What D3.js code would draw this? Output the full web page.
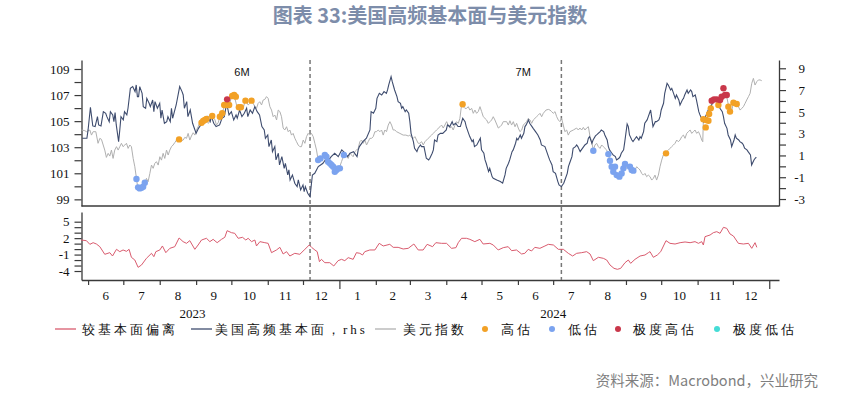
<!DOCTYPE html>
<html>
<head>
<meta charset="utf-8">
<script src="https://cdn.jsdelivr.net/npm/d3@7"></script>
<style>
  body { margin: 0; background: #fff; }
  svg text { font-family: "Liberation Serif", "Times New Roman", serif; }
</style>
</head>
<body>
<div id="chart"></div>
<script>
// days counted from 2023-06-01

// 美国高频基本面 (rhs)
var fundamentals = [[-5,2.58],[-1,2.58],[0,3.34],[2,5.42],[4,3.71],[6,3.65],[8,4.56],[9,3.80],[11,3.71],[13,5.02],[15,4.87],[16,4.56],[18,4.10],[19,5.02],[21,4.72],[22,4.10],[23,4.93],[24,3.80],[26,2.27],[27,3.34],[28,4.56],[30,4.26],[31,5.02],[33,4.72],[34,5.33],[36,7.16],[38,7.32],[40,6.86],[41,7.47],[42,6.40],[43,6.40],[44,7.32],[46,6.70],[47,5.48],[49,5.33],[50,6.24],[52,5.79],[53,5.48],[55,6.09],[56,5.02],[57,5.94],[59,5.33],[61,5.79],[62,4.41],[63,5.17],[65,3.95],[67,4.10],[68,4.56],[70,4.10],[71,5.33],[72,4.41],[75,5.63],[78,7.32],[80,6.86],[81,6.55],[82,5.33],[84,5.94],[85,4.56],[87,5.17],[89,3.95],[91,3.34],[92,3.03],[94,3.49],[96,3.80],[98,3.95],[100,4.26],[102,4.56],[104,4.10],[105,4.56],[107,3.95],[109,3.65],[112,3.80],[114,4.41],[116,4.56],[118,5.79],[120,4.72],[122,5.02],[124,4.26],[126,4.72],[127,4.41],[129,5.17],[131,4.56],[133,4.87],[135,5.33],[136,4.56],[138,5.17],[140,4.87],[142,5.48],[144,5.02],[146,4.72],[148,3.65],[150,3.34],[151,2.58],[153,2.88],[154,1.81],[156,2.42],[157,1.35],[159,1.81],[160,0.59],[162,1.20],[163,0.13],[165,0.89],[167,-0.18],[168,0.28],[170,-0.79],[171,-0.33],[172,-1.25],[174,-0.79],[176,-1.55],[178,-1.86],[179,-1.25],[181,-2.16],[183,-1.71],[184,-2.32],[185,-1.86],[187,-2.47],[189,-2.78],
  [191,-0.79],[193,-0.64],[196,-0.02],[198,0.13],[200,0.28],[202,0.59],[204,0.44],[207,0.89],[210,1.20],[213,0.89],[216,1.51],[219,1.20],[221,0.89],[223,1.20],[226,1.35],[229,0.89],[230,1.51],[231,1.81],[234,2.27],[237,2.58],[240,3.34],[241,5.02],[243,4.87],[245,5.33],[246,6.24],[248,6.70],[250,6.55],[252,6.86],[254,6.70],[255,7.01],[256,7.47],[258,8.23],[259,7.77],[261,7.01],[263,6.40],[264,5.94],[266,5.79],[267,5.33],[268,5.48],[270,5.02],[271,5.17],[273,4.87],[274,4.10],[275,3.03],[277,2.27],[278,1.66],[280,1.35],[281,1.66],[283,1.96],[284,1.81],[286,1.81],[288,0.74],[290,0.59],[291,0.74],[293,1.20],[294,1.51],[295,2.42],[297,2.27],[298,2.88],[300,3.03],[302,3.03],[305,3.34],[306,3.80],[308,3.65],[310,4.10],[311,3.80],[313,3.95],[315,3.65],[317,3.65],[319,4.41],[321,4.10],[322,3.65],[324,3.03],[325,2.73],[327,2.27],[328,2.42],[329,1.81],[331,1.96],[334,2.58],[335,1.51],[337,1.20],[338,0.59],[339,0.28],[341,-0.48],[342,-0.18],[344,-0.94],[345,-1.09],[348,-1.25],[351,-1.40],[353,-1.55],[355,-0.79],[356,-0.18],[358,0.28],[359,0.59],[361,1.35],[362,1.51],[364,2.12],[365,2.58],[366,2.42],[368,2.88],[369,2.58],[371,3.03],[372,3.65],[373,3.80],[375,4.26],[376,3.95],[378,3.65],[379,3.49],[381,3.19],[383,2.88],[385,2.42],[386,1.96],[389,1.81],[390,1.51],[392,0.89],[393,0.59],[395,0.13],[396,-0.48],[398,-0.64],[400,-1.40],[401,-1.71],[403,-1.86],
  [405,-1.55],[406,-1.25],[408,-0.64],[409,-0.02],[410,0.28],[412,0.89],[413,1.66],[415,1.81],[416,1.96],[417,1.81],[419,1.35],[420,1.51],[422,1.81],[423,1.96],[425,2.12],[426,2.58],[427,2.73],[429,2.12],[430,2.42],[432,2.79],[433,2.88],[436,3.19],[437,3.34],[439,3.19],[440,2.88],[442,2.42],[443,1.81],[444,1.51],[446,1.20],[447,1.05],[449,0.89],[450,0.59],[452,0.74],[453,0.89],[454,1.20],[456,1.51],[457,2.27],[459,3.89],[460,3.65],[461,2.88],[463,2.42],[464,2.27],[466,2.58],[467,2.73],[469,2.42],[470,2.73],[471,2.58],[473,3.19],[474,3.95],[476,4.26],[477,4.56],[479,5.17],[480,4.41],[481,3.65],[483,4.10],[484,4.10],[486,4.26],[487,4.56],[488,5.17],[490,5.79],[491,6.70],[493,7.62],[494,7.47],[496,7.01],[497,7.16],[498,6.86],[500,6.24],[501,6.55],[503,6.09],[504,5.63],[506,6.09],[507,6.24],[508,6.55],[510,7.01],[511,6.70],[513,7.01],[514,6.86],[515,6.40],[517,6.55],[518,6.09],[520,5.02],[521,4.72],[523,4.26],[524,4.10],[525,4.41],[527,4.87],[528,5.17],[530,5.48],[531,5.63],[532,5.94],[534,6.15],[535,6.03],[537,5.79],[538,5.33],[540,5.02],[541,4.56],[542,3.95],[544,3.49],[545,2.88],[547,2.42],[548,1.81],[550,2.42],[551,2.88],[552,2.58],[554,2.42],[555,2.27],[557,2.12],[558,1.96],[559,1.66],[561,1.51],[562,1.35],[564,1.05],[565,0.13],[567,0.59],[568,0.74],[569,0.83]];

// 美元指数
var usdIndex = [[-5.6,104.32],[-2.8,104.27],[-1.4,104.19],[1.5,104.32],[2.9,103.93],[4.3,104.19],[6.6,104.19],[8.5,103.30],[10,103.68],[11.4,103.60],[14.2,102.78],[15.6,102.22],[17.1,102.53],[18.5,102.32],[19.9,102.78],[21.3,102.14],[22.7,102.78],[24.2,103.04],[25.6,102.78],[27,103.04],[28.4,103.30],[29.8,103.04],[31.3,103.17],[32.7,103.30],[34.1,102.91],[35.5,103.17],[36.9,103.04],[38.4,102.14],[39.8,101.50],[41.2,100.61],[42,100.10],[43.2,99.84],[44.6,99.84],[46.9,99.97],[48.3,100.23],[49.7,100.61],[51.1,100.35],[52.6,100.99],[54,101.63],[55.4,101.38],[56.8,101.76],[58.2,101.89],[59.7,101.63],[61.1,102.27],[62.5,102.01],[63.9,102.53],[65.3,102.14],[66.8,102.78],[68.2,102.40],[69.6,102.78],[71,103.04],[72.4,103.17],[73.8,103.35],[75.3,103.55],[77.5,103.60],[79.5,103.50],[81,103.55],[82.4,103.76],[83.8,103.68],[85.2,104.06],[86.6,103.55],[88,103.86],[89.5,104.11],[90.9,103.93],[92.3,104.32],[93.7,104.57],[95.1,104.88],[98,105.09],[99.4,105.14],[100.8,105.21],[102.2,104.83],[103.7,104.96],[105.1,105.39],[106.5,105.21],[107.9,105.14],[109.3,104.70],[110.8,104.88],[112.2,105.34],[113.6,105.55],[115,105.85],[116.4,106.24],[117.9,106.62],[119.3,106.24],[120.7,106.36],[122.1,106.88],[123.5,107.00],[125,106.75],[126.4,106.24],[127.8,106.11],[129.2,106.11],[130.6,106.24],[132.1,105.98],[133.5,106.49],[134.9,106.49],[136.3,106.24],[137.7,106.36],[139.2,106.57],[140.6,106.36],[142,106.11],[143.4,105.98],[144.8,106.36],[146.2,106.49],[147.7,106.24],[149.1,106.62],[150.5,106.67],[151.9,106.88],[153.3,106.75],[154.8,106.11],[156.2,105.85],[157.6,105.34],[159,105.47],[160.5,105.09],[161.9,105.85],[163.3,105.73],[164.7,105.34],[166.1,104.47],[167.5,104.32],[169,104.57],[170.4,104.19],[171.8,104.32],[173.2,103.93],[174.6,104.06],[176.1,103.68],[177.5,103.42],[178.9,103.17],[180.3,103.04],[181.7,103.04],[183.2,103.55],[184.6,103.30],[186,103.81],[187.4,104.06],[188.8,103.93],[190.2,104.06],[191.7,103.81],[193.1,103.30],[194.5,102.78],[195.9,102.01],[198.8,102.14],[201.6,102.40],[203.6,102.27],[205.3,102.01],[207.3,101.63],[208.7,101.50],[211.5,101.12],[213.8,101.38],[215.8,101.89],[217.8,102.40],[220.1,102.27],[221.5,102.14],[222.9,102.53],[224.3,102.40],[225.7,102.27],[227.2,102.66],[228.6,102.78],[230,102.91],[231.4,103.42],[232.8,103.55],[234.3,103.30],[235.7,103.55],[237.1,103.17],[238.5,103.42],[239.9,103.68],[241.4,103.68],[242.8,103.81],[244.2,104.19],[245.6,104.19],[247,104.32],[248.5,104.19],[249.9,104.32],[251.3,103.93],[252.7,104.32],[254.1,104.19],[255.6,104.70],[257,104.96],[258.4,104.70],[259.8,104.32],[261.2,104.32],[262.7,104.19],[265.5,104.06],[268.3,103.93],[270.6,103.93],[272.6,103.86],[274,103.93],[275.4,103.76],[276.9,103.68],[278.3,103.81],[279.7,103.55],[281.1,103.30],[282.5,103.30],[284,103.42],[285.4,103.17],[286.8,103.42],[288.2,103.55],[289.6,103.68],[291.1,103.81],[292.5,103.93],[293.9,104.06],[295.3,104.19],[296.7,104.32],[299.6,104.57],[301,104.70],[302.4,104.47],[303.8,104.70],[305.3,104.96],[306.7,104.70],[308.1,104.47],[309.5,104.57],[310.9,104.32],[312.4,104.70],[313.8,104.96],[315.2,104.83],[316.6,105.21],[318,106.24],[319.5,106.11],[320.9,105.98],[322.3,105.98],[323.7,106.11],[325.1,105.85],[326.6,105.98],[328,105.60],[329.4,105.85],[330.8,105.60],[332.2,105.73],[333.7,106.11],[335.1,105.73],[336.5,105.34],[339.3,105.09],[340.8,104.83],[342.2,104.96],[343.6,105.09],[345,105.34],[346.4,105.09],[349.3,104.47],[350.7,104.57],[352.1,104.70],[353.5,104.96],[356.4,104.96],[357.8,104.70],[359.2,105.03],[360.6,104.70],[362.1,104.96],[363.5,104.57],[364.9,104.83],[366.3,104.47],[367.7,104.19],[369.2,104.32],[370.6,104.70],[373.4,104.96],[374.8,105.21],[376.3,105.09],[377.7,104.83],[379.1,105.09],[381.9,105.34],[383.4,105.47],[384.8,105.60],[386.2,105.34],[387.6,105.60],[389.9,105.85],[391.9,105.90],[393.3,105.85],[394.7,105.73],[396.1,105.60],[397.6,105.73],[399,105.34],[400.4,105.09],[401.8,104.96],[403.2,105.21],
  [404.6,104.70],[406,104.19],[407.5,104.32],[408.9,103.93],[410.3,104.19],[413.2,104.32],[416,104.47],[417.4,104.32],[418.8,104.47],[420.3,104.32],[421.7,104.52],[423.1,104.32],[424.5,104.47],[426,104.57],[427.4,103.81],[428.8,103.42],[430.2,102.78],[431.6,103.17],[433,103.30],[434.5,103.04],[435.9,102.91],[437.3,103.17],[438.7,103.04],[441.6,102.78],[443,102.40],[444.4,102.01],[445.8,101.50],[447.2,101.50],[448.7,101.12],[450.1,100.99],[451.5,100.74],[452.9,100.61],[454.3,100.86],[455.8,101.25],[457.2,101.63],[458.6,101.38],[460,101.50],[461.4,101.25],[462.9,101.38],[464.3,101.20],[465.7,101.25],[467.1,101.50],[468.5,101.38],[470,101.25],[471.4,100.99],[472.8,100.86],[474.2,100.99],[475.6,100.74],[477,100.86],[478.5,100.74],[479.9,100.48],[481.3,100.61],[482.7,100.86],[484.1,100.48],[485.6,100.86],[487,101.50],[488.4,102.01],[489.8,102.40],[491.3,102.53],[492.7,102.66],[494.1,102.78],[495.5,102.91],[496.9,103.04],[498.4,103.17],[499.8,103.30],[501.2,103.55],[502.6,103.42],[504,103.55],[505.5,103.81],[506.9,103.93],[508.3,103.68],[509.7,104.06],[511.1,104.19],[512.6,104.32],[514,104.06],[515.4,104.19],[516.8,104.32],[518.2,104.06],[519.7,104.19],[521.1,103.93],[522.5,103.55],[523.4,103.42],[523.9,105.09],[525.3,104.96],[526.8,105.09],[528.2,105.60],[529.6,105.98],[531,106.36],[532.4,106.62],[535.3,106.67],[538.1,106.62],[539.5,106.88],[541,107.00],[542.4,107.13],[543.8,106.88],[545.2,106.24],[546.6,106.11],[548.1,105.85],[549.5,106.36],[550.9,106.41],[552.3,106.24],[553.7,106.11],[555.2,105.85],[556.6,105.98],[558,106.11],[559.4,106.36],[560.8,106.62],[562.3,106.88],[563.7,107.13],[565.1,107.90],[566.5,108.28],[567.9,107.77],[569.4,108.03],[570.8,108.16],[572.2,108.16],[573.6,108.10]];

// 较基本面偏离
var deviation = [[-6,1.66],[-1.4,1.54],[1.5,0.87],[4.3,1.17],[7.1,0.93],[10,0.44],[14.2,-0.95],[18.5,-0.65],[20.8,-1.26],[24.2,-0.04],[27,-0.47],[29.8,-0.16],[32.7,-0.41],[34.9,-0.04],[36.9,-1.5],[39.8,-1.99],[42.6,-3.33],[45.5,-2.9],[49.7,-1.68],[54,-0.77],[56,-1.38],[57.7,-0.47],[61.1,-0.16],[63.3,0.57],[66.2,-0.65],[69.6,0.14],[73.8,0.44],[77.5,2.03],[80.9,1.36],[83.8,1.05],[86.6,1.54],[90.9,-0.04],[93.7,0.75],[96.6,1.66],[100.8,1.97],[103.7,1.36],[106.5,1.78],[109.9,1.17],[113.6,1.78],[116.4,2.15],[118.4,3.36],[122.1,3.0],[124.9,2.88],[127.8,1.97],[131.5,2.15],[134.3,1.66],[136.3,1.97],[139.2,1.36],[142,1.66],[143.4,0.57],[146.3,1.36],[150.5,1.17],[153.3,1.05],[156.2,-0.65],[160.4,-0.16],[163.3,0.32],[166.1,-0.89],[169,-0.47],[171.8,-1.26],[176,-0.77],[180.3,-0.95],[184.6,-0.04],[188.3,0.75],[190.3,0.32],[193.1,-0.16],[195.1,-0.47],[197,-2.29],[198.7,-1.87],[201.6,-2.48],[205.8,-2.48],[209.2,-3.08],[212.9,-2.11],[215.8,-1.87],[218.6,-2.11],[221.5,-1.56],[225.7,-1.87],[228.5,-0.65],[231.4,-0.77],[233.7,-1.08],[235.6,-0.47],[239.9,-0.16],[244.2,-0.16],[247.9,1.05],[251.3,0.57],[256.9,0.87],[259.8,0.32],[264,0.32],[268.3,0.02],[272.6,0.14],[277.4,0.93],[281.1,-0.16],[285.3,-0.16],[288.7,0.87],[293.3,0.44],[296.1,1.17],[301,1.05],[305.2,1.05],[309.5,0.14],[313.2,0.26],[315.2,1.17],[318,1.97],[322.2,1.97],[325.1,1.78],[329.3,1.36],[333.6,1.78],[336.4,0.93],[342.1,1.05],[345,0.75],[349.2,-0.16],[353.5,0.26],[357.7,0.44],[360.6,-0.29],[364.8,-0.16],[369.1,-0.89],[371.9,-0.77],[374.8,-0.04],[377.6,-0.35],[380.4,0.32],[384.7,0.14],[389,0.57],[391.9,0.87],[396.2,0.75],[400.4,-0.04],[404.7,-0.04],[408.9,-0.77],[412.6,-1.26],[416,-0.77],[420.3,-0.65],[424.5,-0.47],[427.4,-0.89],[430.2,-2.11],[434.5,-1.5],[438.7,-1.68],[441.6,-1.99],[444.4,-2.9],[447.8,-3.51],[450.7,-3.69],[453.5,-3.51],[457.2,-2.48],[460,-1.99],[462,-2.6],[465.7,-1.87],[470,-1.26],[474.2,-1.08],[477.1,-0.65],[478.5,-0.47],[481.3,-1.5],[484.7,-1.08],[487.6,-0.47],[492.1,1.54],[495.5,1.05],[499.8,0.93],[504.1,1.17],[508.3,1.3],[512.6,1.17],[516.8,1.36],[519.7,1.05],[522.5,1.36],[523.9,0.75],[525.3,2.27],[529.6,2.57],[532.4,3.0],[535.3,3.18],[538.1,2.88],[541,3.97],[543.8,3.79],[546.6,2.76],[549.5,2.39],[553.7,1.05],[558,0.93],[562.3,1.05],[565.1,0.14],[567.9,1.17],[569.4,0.32]];

// valuation markers on the dollar index
var highDots = [[77.5,103.60],[96.6,104.88],[98,105.01],[99.4,105.09],[100.8,105.16],[105.7,105.39],[112.2,105.34],[114.2,105.60],[115.9,106.24],[117.9,106.24],[120.1,106.24],[122.7,106.93],[124.4,107.00],[125.8,106.88],[128.4,106.06],[130.1,106.06],[134,106.57],[139.2,106.57],[318.9,106.29],[492.1,102.53],[523.9,105.14],[525.9,104.52],[526.2,105.09],[528.2,105.03],[528.8,105.55],[530.2,105.98],[536.7,106.24],[545.2,106.11],[546.6,105.73],[549.5,106.41],[552.3,106.31]];
var lowDots = [[41.2,100.56],[42.6,99.92],[44,99.84],[45.5,99.89],[46.9,99.97],[48.3,100.28],[195.9,102.01],[197.9,102.14],[201.6,102.40],[203,102.27],[204.4,101.89],[205.9,101.76],[207.3,101.63],[208.7,101.50],[210.1,101.12],[211.5,101.25],[213,101.38],[214.4,101.38],[217.8,102.40],[430.2,102.73],[443,102.47],[444.4,101.96],[445.8,101.50],[447.2,101.12],[448.7,101.50],[450.1,100.86],[452.4,100.74],[454.3,100.99],[455.8,101.38],[457.2,101.71],[461.4,101.50],[462.9,101.25],[464.3,101.20]];
var extremeHighDots = [[118.4,106.67],[531,106.57],[533,106.67],[535.3,106.67],[538.1,106.62],[539.5,106.88],[541,107.52],[542.4,107.00],[543.8,107.00]];
var extremeLowDots = [];

var windowEnds = [189, 403];
var windowLabels = [[131, "6M"], [370.5, "7M"]];
var yearLabels = [[89, "2023"], [396, "2024"]];

var leftTicks = d3.range(99, 110);
var rightTicks = d3.range(-3, 10);
var lowerTicks = d3.range(-4, 6);

var width = 861, height = 395;
var left = 81.5, right = 779;
var topY = 60, midY = 206, lowTop = 212, lowBottom = 280;
var axisColor = "#3a3a3a";

var baseTime = Date.UTC(2023, 5, 1);
function day(d) { return new Date(baseTime + d * 864e5); }

var x = d3.scaleUtc().domain([day(-5.6), day(588.3)]).range([left, right]);
var yL = d3.scaleLinear().domain([98.49, 109.69]).range([midY, topY]);
var yR = d3.scaleLinear().domain([-3.64, 9.76]).range([midY, topY]);
var yB = d3.scaleLinear().domain([-5.64, 6.77]).range([lowBottom, lowTop]);

var svg = d3.select("#chart").append("svg")
    .attr("width", width)
    .attr("height", height)
    .style("display", "block");

svg.append("rect").attr("width", width).attr("height", height).attr("fill", "#fff");

// title
svg.append("text")
    .attr("x", 430).attr("y", 23)
    .attr("text-anchor", "middle")
    .style("font-family", "'Noto Sans CJK SC', sans-serif")
    .style("font-size", "20px")
    .style("font-weight", "bold")
    .attr("fill", "#7d8daa")
    .text("图表 33:美国高频基本面与美元指数");

function styleAxis(g) {
  g.selectAll("path.domain").attr("stroke", axisColor).attr("stroke-width", 1.3);
  g.selectAll(".tick line").attr("stroke", axisColor).attr("stroke-width", 1.2);
  g.selectAll(".tick text")
      .attr("fill", "#111")
      .style("font-family", "'Liberation Serif', serif")
      .style("font-size", "13px");
}

// upper panel axes
var gL = svg.append("g").attr("transform", "translate(" + left + ",0)")
    .call(d3.axisLeft(yL).tickValues(leftTicks).tickSize(7).tickSizeOuter(0).tickPadding(5)
      .tickFormat(function(d) { return d % 2 ? String(d) : ""; }));
styleAxis(gL);

var gR = svg.append("g").attr("transform", "translate(" + right + ",0)")
    .call(d3.axisRight(yR).tickValues(rightTicks).tickSize(7).tickSizeOuter(0)
      .tickFormat(function(d) { return Math.abs(d) % 2 ? String(d) : ""; }));
styleAxis(gR);
gR.selectAll(".tick text").attr("text-anchor", "end").attr("x", 26);

svg.append("line")
    .attr("x1", left).attr("x2", right)
    .attr("y1", midY).attr("y2", midY)
    .attr("stroke", axisColor).attr("stroke-width", 1.3);

// lower panel axes
var gB = svg.append("g").attr("transform", "translate(" + left + ",0)")
    .call(d3.axisLeft(yB).tickValues(lowerTicks).tickSize(7).tickSizeOuter(0).tickPadding(5)
      .tickFormat(function(d) { return [5, 2, -1, -4].indexOf(d) >= 0 ? String(d) : ""; }));
styleAxis(gB);

var monthStarts = d3.utcMonth.range(day(0), day(581));
var gX = svg.append("g").attr("transform", "translate(0," + lowBottom + ")")
    .call(d3.axisBottom(x).tickValues(monthStarts).tickSize(5).tickSizeOuter(0).tickFormat(""));
styleAxis(gX);
gX.selectAll(".tick line").attr("y2", function(d) { return d.getUTCMonth() === 0 ? 9 : 5; });

// month labels, centred inside each month
var monthMids = monthStarts.slice(0, -1).map(function(d, i) {
  return [d, new Date((d.getTime() + monthStarts[i + 1].getTime()) / 2)];
});
svg.append("g").selectAll("text")
    .data(monthMids)
    .enter().append("text")
    .attr("x", function(d) { return x(d[1]); })
    .attr("y", 300)
    .attr("text-anchor", "middle")
    .style("font-size", "13px")
    .attr("fill", "#111")
    .text(function(d) { return d3.utcFormat("%-m")(d[0]); });

svg.append("g").selectAll("text")
    .data(yearLabels)
    .enter().append("text")
    .attr("x", function(d) { return x(day(d[0])); })
    .attr("y", 318)
    .attr("text-anchor", "middle")
    .style("font-size", "13px")
    .attr("fill", "#111")
    .text(function(d) { return d[1]; });

// window markers
svg.append("g").selectAll("line")
    .data(windowEnds)
    .enter().append("line")
    .attr("x1", function(d) { return x(day(d)); })
    .attr("x2", function(d) { return x(day(d)); })
    .attr("y1", topY).attr("y2", lowBottom)
    .attr("stroke", "#777")
    .attr("stroke-width", 1.5)
    .attr("stroke-dasharray", "4,3");

svg.append("g").selectAll("text")
    .data(windowLabels)
    .enter().append("text")
    .attr("x", function(d) { return x(day(d[0])); })
    .attr("y", 75.5)
    .attr("text-anchor", "middle")
    .style("font-family", "'Liberation Sans', Arial, sans-serif")
    .style("font-size", "11px")
    .attr("fill", "#111")
    .text(function(d) { return d[1]; });

// series
function lineFor(y) {
  return d3.line()
    .x(function(d) { return x(day(d[0])); })
    .y(function(d) { return y(d[1]); });
}

svg.append("path").datum(usdIndex)
    .attr("fill", "none").attr("stroke", "#b0b0b0").attr("stroke-width", 1)
    .attr("d", lineFor(yL));

svg.append("path").datum(fundamentals)
    .attr("fill", "none").attr("stroke", "#3e4c6e").attr("stroke-width", 1.1)
    .attr("d", lineFor(yR));

svg.append("path").datum(deviation)
    .attr("fill", "none").attr("stroke", "#d95b6e").attr("stroke-width", 1)
    .attr("d", lineFor(yB));

var dotSets = [
  [highDots, "#f2a126"],
  [lowDots, "#7ba3ef"],
  [extremeHighDots, "#c9374a"],
  [extremeLowDots, "#45dcd6"]
];
dotSets.forEach(function(set) {
  svg.append("g").selectAll("circle")
      .data(set[0])
      .enter().append("circle")
      .attr("cx", function(d) { return x(day(d[0])); })
      .attr("cy", function(d) { return yL(d[1]); })
      .attr("r", 3.2)
      .attr("fill", set[1]);
});

// legend
var legendY = 329;
var legend = svg.append("g")
    .style("font-family", "'Noto Sans CJK SC', sans-serif")
    .style("font-size", "13px")
    .style("letter-spacing", "3px");

var legendLines = [
  [55, 82, "#d95b6e", "较基本面偏离"],
  [191, 215, "#3e4c6e", "美国高频基本面，rhs"],
  [375, 403, "#b0b0b0", "美元指数"]
];
legendLines.forEach(function(d) {
  legend.append("line")
      .attr("x1", d[0]).attr("x2", d[0] + 21)
      .attr("y1", legendY).attr("y2", legendY)
      .attr("stroke", d[2]).attr("stroke-width", 1.3);
  legend.append("text").attr("x", d[1]).attr("y", legendY + 4.5)
      .attr("fill", "#111").text(d[3]);
});

var legendDots = [
  [485, 501, "#f2a126", "高估"],
  [552, 568, "#7ba3ef", "低估"],
  [618, 633, "#c9374a", "极度高估"],
  [717, 733, "#45dcd6", "极度低估"]
];
legendDots.forEach(function(d) {
  legend.append("circle").attr("cx", d[0]).attr("cy", legendY).attr("r", 3).attr("fill", d[2]);
  legend.append("text").attr("x", d[1]).attr("y", legendY + 4.5)
      .attr("fill", "#111").text(d[3]);
});

// source
svg.append("text")
    .attr("x", 818).attr("y", 386)
    .attr("text-anchor", "end")
    .style("font-family", "'Noto Sans CJK SC', sans-serif")
    .style("font-size", "14.5px")
    .attr("fill", "#7f7f7f")
    .text("资料来源：Macrobond，兴业研究");
</script>
</body>
</html>
